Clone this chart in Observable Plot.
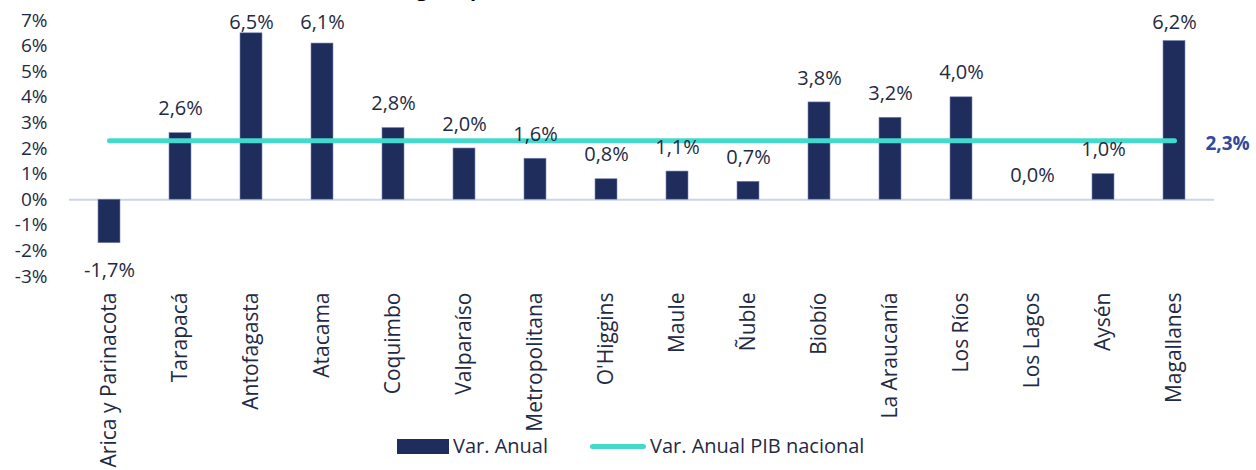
<!DOCTYPE html>
<html>
<head>
<meta charset="utf-8">
<script src="https://cdn.jsdelivr.net/npm/d3@7"></script>
<script src="https://cdn.jsdelivr.net/npm/@observablehq/plot@0.6"></script>
<style>
  html, body { margin: 0; padding: 0; background: #fff; overflow: hidden; }
  #wrap { position: relative; width: 1256px; height: 470px; overflow: hidden; font-family: "Open Sans", "Noto Sans", sans-serif; }
  #title { position: absolute; top: -21px; left: 40px; font-size: 20px; line-height: 20px; font-weight: bold; color: #000; white-space: nowrap; }
  #legend { position: absolute; top: 433px; left: 0; width: 1256px; height: 26px; font-size: 20px; line-height: 26px; color: #1F2A44; }
  #legend span { position: absolute; white-space: nowrap; }
  svg text { font-family: "Open Sans", "Noto Sans", sans-serif; }
</style>
</head>
<body>
<div id="wrap">
  <div id="title">Variación anual del Imacec en cada región, primer trimestre</div>
  <div id="chart"></div>
  <div id="legend">
    <span style="left:397px;top:6px;width:52px;height:15px;background:#1E2D5C;"></span>
    <span style="left:453px;top:0;">Var. Anual</span>
    <span style="left:590px;top:11px;width:56px;height:5px;border-radius:3px;background:#45D9CE;"></span>
    <span style="left:650px;top:0;">Var. Anual PIB nacional</span>
  </div>
</div>
<script>
const regions = ["Arica y Parinacota","Tarapacá","Antofagasta","Atacama","Coquimbo","Valparaíso","Metropolitana","O'Higgins","Maule","Ñuble","Biobío","La Araucanía","Los Ríos","Los Lagos","Aysén","Magallanes"];
const varAnual = [-1.7, 2.6, 6.5, 6.1, 2.8, 2.0, 1.6, 0.8, 1.1, 0.7, 3.8, 3.2, 4.0, 0.0, 1.0, 6.2];
const pibNacional = 2.3;
const yTicks = [-3,-2,-1,0,1,2,3,4,5,6,7];

const data = regions.map((r, i) => ({region: r, v: varAnual[i]}));
const fmt = v => v.toFixed(1).replace(".", ",") + "%";
const navy = "#1E2D5C";
const textCol = "#1F2A44";
const lastRegion = regions[regions.length - 1];

const chart = Plot.plot({
  width: 1256,
  height: 470,
  marginLeft: 69,
  marginRight: 42,
  marginTop: 20,
  marginBottom: 194,
  style: {fontSize: "19px", color: textCol, background: "transparent"},
  x: {domain: regions, paddingInner: 0.69, paddingOuter: 0.33, label: null, tickSize: 0, tickPadding: 16, tickRotate: -90, fontSize: 21},
  y: {domain: [-3, 7], ticks: yTicks, tickFormat: d => d + "%", label: null, tickSize: 0, tickPadding: 22},
  marks: [
    Plot.axisX({tickSize: 0, tickPadding: 16, tickRotate: -90, fontSize: 21, label: null}),
    Plot.axisY({ticks: yTicks, tickFormat: d => d + "%", tickSize: 0, tickPadding: 22, fontSize: 19, label: null}),
    Plot.ruleY([0], {stroke: "#CDD3EF", strokeWidth: 2}),
    Plot.barY(data, {x: "region", y: "v", fill: navy, stroke: "#7C86B8", strokeWidth: 0.6}),
    Plot.lineY([regions[0], lastRegion], {x: d => d, y: () => pibNacional, stroke: "#45D9CE", strokeWidth: 5, strokeLinecap: "round"}),
    Plot.text(data, {x: "region", y: d => d.v >= 0 ? Math.min(d.v + 0.95, 6.9) : d.v - 1.05, text: d => fmt(d.v), fill: textCol, fontSize: 20}),
    Plot.text([pibNacional], {x: () => lastRegion, y: d => d, text: d => fmt(d), dx: 53, dy: 3, fill: "#2F4A9E", fontWeight: "bold", fontSize: 19})
  ]
});
document.getElementById("chart").appendChild(chart);
</script>
</body>
</html>
